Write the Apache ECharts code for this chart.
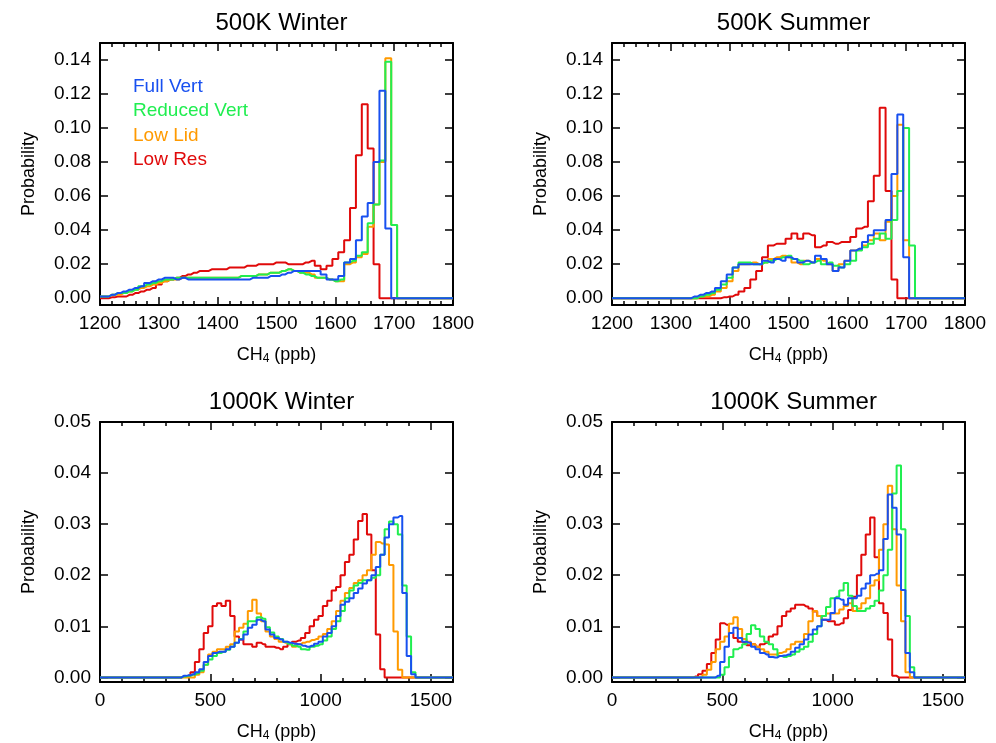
<!DOCTYPE html>
<html>
<head>
<meta charset="utf-8">
<script src="https://cdn.jsdelivr.net/npm/echarts@6/dist/echarts.min.js"></script>
<style>body{margin:0;background:#fff}#chart{width:996px;height:743px}</style>
</head>
<body>
<div id="chart"></div>
<script>
// series names and colours
var names = ['Full Vert', 'Reduced Vert', 'Low Lid', 'Low Res'];
var colors = ['#1850f0', '#20ee50', '#ff9a00', '#e00a0a'];

// 500K panels: 10 ppb bins, arrays start at bin centre 1200
var wBlue = [.001,.001,.002,.003,.004,.005,.006,.007,.009,.010,.011,.012,.012,.011,.012,.011,.011,.011,.011,.011,.011,.011,.011,.011,.011,.011,.012,.012,.012,.013,.013,.014,.015,.016,.016,.016,.016,.016,.014,.011,.011,.013,.021,.023,.034,.048,.056,.080,.122,.041];
var wGreen = [.001,.001,.002,.003,.003,.004,.005,.007,.008,.009,.010,.011,.011,.012,.012,.012,.012,.012,.012,.012,.012,.012,.012,.012,.013,.013,.013,.014,.014,.015,.015,.016,.017,.016,.015,.014,.013,.012,.012,.011,.010,.011,.021,.022,.025,.027,.044,.055,.081,.139,.043];
var wOrange = [.001,.001,.002,.002,.003,.004,.005,.006,.007,.008,.009,.010,.011,.011,.012,.012,.012,.012,.012,.012,.012,.012,.012,.012,.013,.013,.013,.014,.014,.015,.015,.016,.017,.016,.015,.015,.014,.012,.012,.011,.010,.010,.020,.021,.024,.026,.042,.055,.080,.141,.043];
var wRed = [.000,.000,.0005,.001,.001,.002,.003,.004,.005,.006,.008,.010,.011,.012,.013,.014,.015,.016,.016,.017,.017,.017,.018,.018,.018,.019,.019,.020,.020,.020,.021,.021,.020,.020,.020,.021,.022,.019,.017,.019,.023,.027,.034,.053,.084,.114,.088,.020];

// start centre 1300
var sBlue = [.000,.000,.000,.000,.001,.002,.003,.004,.006,.010,.014,.018,.020,.020,.020,.020,.022,.021,.023,.022,.024,.023,.021,.022,.021,.025,.023,.020,.016,.018,.022,.028,.029,.033,.037,.040,.040,.046,.073,.108,.024];
var sGreen = [.000,.000,.000,.000,.000,.001,.002,.003,.005,.008,.012,.018,.021,.021,.020,.020,.021,.022,.023,.024,.025,.023,.022,.020,.021,.022,.020,.021,.019,.018,.020,.022,.028,.030,.032,.035,.038,.035,.046,.063,.100,.031];
var sOrange = [.000,.000,.000,.000,.000,.001,.001,.002,.004,.006,.010,.016,.020,.020,.021,.020,.021,.023,.024,.025,.024,.021,.020,.022,.021,.023,.022,.020,.016,.020,.022,.028,.029,.031,.034,.038,.034,.045,.060,.102,.034];
var sRed = [.000,.000,.000,.000,.000,.000,.000,.000,.000,.0005,.001,.002,.004,.006,.011,.016,.024,.031,.032,.032,.035,.038,.035,.038,.037,.030,.031,.033,.032,.033,.033,.036,.041,.042,.057,.072,.112,.063,.011];

// 1000K Winter: 20 ppb bins
var kwBlue = [.0003,.0004,.0006,.001,.0016,.003,.0042,.0048,.005,.005,.0055,.006,.0068,.0074,.0084,.0097,.0103,.0113,.011,.0094,.0084,.0077,.0074,.007,.0068,.0066,.0065,.0062,.006,.0062,.0066,.007,.008,.0087,.010,.012,.0142,.0148,.0155,.0165,.0174,.0184,.019,.020,.0216,.024,.0274,.030,.0313,.0316,.0165,.0042,.0006];
var kwGreen = [.0002,.0003,.0005,.0008,.0013,.0025,.0035,.0042,.0048,.005,.0054,.006,.0068,.0075,.009,.011,.011,.0118,.0115,.0098,.0088,.008,.0075,.007,.0066,.0062,.006,.0055,.0054,.006,.0062,.0065,.0072,.008,.0095,.011,.013,.0155,.017,.018,.0185,.019,.019,.0195,.020,.024,.029,.0305,.030,.028,.018,.008,.001];
var kwOrange = [.0005,.001,.0025,.0045,.005,.0055,.0055,.006,.0065,.009,.0097,.0105,.013,.0152,.0125,.011,.009,.008,.0075,.007,.0068,.0065,.006,.0065,.0068,.007,.0073,.0075,.008,.0085,.0095,.011,.013,.015,.0165,.0175,.0185,.019,.020,.021,.024,.0265,.0262,.026,.022,.009,.0015];
var kwRed = [.0002,.0003,.001,.003,.0055,.0087,.010,.014,.0145,.014,.015,.012,.008,.0074,.0065,.0065,.006,.0068,.0065,.006,.006,.0058,.0055,.006,.0065,.007,.0072,.0077,.0087,.010,.0113,.012,.014,.015,.017,.0177,.020,.0226,.024,.027,.0306,.032,.028,.021,.0084,.0016];
var kwStart = [380, 380, 440, 380];

// 1000K Summer: 20 ppb bins
var ksBlue = [.0003,.003,.006,.0087,.0097,.0077,.007,.0068,.006,.0055,.0048,.0045,.004,.0039,.0042,.0043,.0045,.005,.0058,.0065,.0074,.0084,.0094,.010,.0113,.0113,.0126,.0155,.0152,.0142,.0155,.0155,.016,.0174,.0184,.020,.0203,.021,.0271,.0358,.0332,.028,.0171,.0048,.001];
var ksGreen = [.0005,.002,.004,.0055,.0058,.0065,.0085,.0102,.0095,.008,.007,.0065,.0055,.0042,.004,.0042,.0045,.005,.0055,.006,.007,.0085,.010,.012,.0138,.0155,.0158,.017,.0185,.016,.014,.013,.013,.0135,.014,.015,.017,.020,.025,.036,.0415,.029,.012,.002];
var ksOrange = [.0005,.0015,.003,.0055,.007,.008,.0105,.0118,.0095,.0075,.007,.0065,.006,.0055,.005,.0045,.0045,.0048,.005,.0055,.0065,.007,.007,.0085,.011,.013,.012,.012,.0125,.0125,.0125,.0133,.014,.0145,.013,.0135,.0145,.0155,.018,.019,.025,.030,.0375,.029,.018,.011,.001];
var ksRed = [.0002,.0006,.0013,.0026,.0048,.0074,.0106,.0103,.0087,.0077,.007,.0068,.0063,.0065,.006,.0065,.0068,.008,.0084,.010,.012,.0129,.0135,.0142,.0142,.0139,.0135,.0129,.012,.0113,.011,.011,.0103,.0106,.0116,.0132,.0158,.020,.024,.028,.0313,.0235,.0145,.0126,.0074,.0003];
var ksStart = [480, 500, 420, 380];

var panels = [
  {title: '500K Winter', left: 100, top: 43, x: [1200, 1800, 100], bin: 10, y: [-0.004, 0.15], yt: [0, .02, .04, .06, .08, .10, .12, .14],
   data: [wBlue, wGreen, wOrange, wRed], start: [1200, 1200, 1200, 1200]},
  {title: '500K Summer', left: 612, top: 43, x: [1200, 1800, 100], bin: 10, y: [-0.004, 0.15], yt: [0, .02, .04, .06, .08, .10, .12, .14],
   data: [sBlue, sGreen, sOrange, sRed], start: [1300, 1300, 1300, 1300]},
  {title: '1000K Winter', left: 100, top: 422, x: [0, 1600, 500], bin: 20, y: [-0.0009, 0.05], yt: [0, .01, .02, .03, .04, .05],
   data: [kwBlue, kwGreen, kwOrange, kwRed], start: kwStart},
  {title: '1000K Summer', left: 612, top: 422, x: [0, 1600, 500], bin: 20, y: [-0.0009, 0.05], yt: [0, .01, .02, .03, .04, .05],
   data: [ksBlue, ksGreen, ksOrange, ksRed], start: ksStart}
];

var font = 'Liberation Sans, Arial, sans-serif';
var grids = [], xAxes = [], yAxes = [], series = [], titles = [];
var W = 353, H = 262;

panels.forEach(function (p, i) {
  grids.push({left: p.left, top: p.top, width: W, height: H});
  titles.push({text: p.title, left: p.left + W / 2, top: p.top - 37, textAlign: 'center',
    textStyle: {fontSize: 24, fontWeight: 'normal', color: '#000', fontFamily: font}});
  var tick = {show: true, inside: true, length: 8, lineStyle: {color: '#000', width: 1.5}};
  var minor = {show: true, splitNumber: 5, length: 4, lineStyle: {color: '#000', width: 1.5}};
  var ax = {type: 'value', gridIndex: i, min: p.x[0], max: p.x[1], interval: p.x[2],
    axisLine: {onZero: false, lineStyle: {color: '#000', width: 2}}, axisTick: tick, minorTick: minor,
    splitLine: {show: false}};
  xAxes.push(Object.assign({}, ax, {position: 'bottom', name: 'CH{s|4} (ppb)', nameLocation: 'middle', nameGap: 40,
    nameTextStyle: {fontSize: 18, color: '#000', fontFamily: font, rich: {s: {fontSize: 12, verticalAlign: 'bottom', padding: [8, 0, 0, 0], fontFamily: font}}},
    axisLabel: {fontSize: 19, color: '#000', fontFamily: font, margin: 9, formatter: function (v) { return String(v); }}}));
  xAxes.push(Object.assign({}, ax, {position: 'top', axisLabel: {show: false}}));
  var ay = {type: 'value', gridIndex: i, min: p.y[0], max: p.y[1],
    axisLine: {onZero: false, lineStyle: {color: '#000', width: 2}},
    axisTick: Object.assign({}, tick, {customValues: p.yt}),
    splitLine: {show: false}};
  yAxes.push(Object.assign({}, ay, {position: 'left', name: 'Probability', nameLocation: 'middle', nameGap: 62,
    nameTextStyle: {fontSize: 18, color: '#000', fontFamily: font},
    axisLabel: {fontSize: 19, color: '#000', fontFamily: font, margin: 9, customValues: p.yt,
      formatter: function (v) { return v.toFixed(2); }}}));
  yAxes.push(Object.assign({}, ay, {position: 'right', axisLabel: {show: false}}));

  // series drawn red first so Full Vert is on top
  [3, 2, 1, 0].forEach(function (k) {
    var arr = p.data[k], pts = [];
    for (var c = p.x[0]; c <= p.x[1] + 0.001; c += p.bin) {
      var j = Math.round((c - p.start[k]) / p.bin);
      pts.push([c, (j >= 0 && j < arr.length) ? arr[j] : 0]);
    }
    series.push({type: 'line', name: names[k], xAxisIndex: 2 * i, yAxisIndex: 2 * i, data: pts,
      step: 'middle', symbol: 'none', silent: true, animation: false, clip: true,
      lineStyle: {color: colors[k], width: 2}});
  });
});

var legendText = names.map(function (n, k) {
  return {type: 'text', left: 133, top: 77 + k * 24.5,
    style: {text: n, fill: colors[k], fontSize: 19, fontFamily: font}};
});

var myChart = echarts.init(document.getElementById('chart'));
myChart.setOption({
  backgroundColor: '#fff',
  animation: false,
  title: titles,
  grid: grids,
  xAxis: xAxes,
  yAxis: yAxes,
  series: series,
  graphic: legendText
});
</script>
</body>
</html>
